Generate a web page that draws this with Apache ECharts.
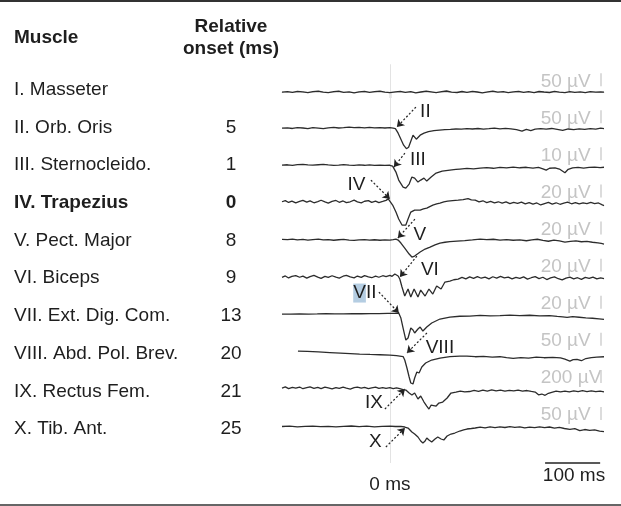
<!DOCTYPE html>
<html><head><meta charset="utf-8">
<script src="https://cdn.jsdelivr.net/npm/echarts@6/dist/echarts.min.js"></script>
<style>html,body{margin:0;padding:0;background:#fff}#c{width:621px;height:506px}</style>
</head><body><div id="c"></div>
<script>
// ---------- table ----------
const muscles = ['I. Masseter','II. Orb. Oris','III. Sternocleido.','IV. Trapezius','V. Pect. Major','VI. Biceps','VII. Ext. Dig. Com.','VIII. Abd. Pol. Brev.','IX. Rectus Fem.','X. Tib. Ant.'];
const onsets = ['', '5', '1', '0', '8', '9', '13', '20', '21', '25'];
const boldRow = 3;
const scaleLabels = ['50 µV','50 µV','10 µV','20 µV','20 µV','20 µV','20 µV','50 µV','200 µV','50 µV'];

// ---------- traces: [time ms, deflection (up +)] ----------
const trI = [[-196,0],[-186,0.5],[-177,-0.3],[-168,0.8],[-158,0.2],[-149,-0.6],[-140,0.5],[-130,1.0],[-121,0],[-112,-0.6],[-102,0.4],[-93,0.9],[-84,-0.2],[-74,0.3],[-65,-0.8],[-56,0.2],[-46,0.7],[-37,-0.3],[-28,0.4],[-18,1.0],[-9,0],[0,-0.6],[10,0.3],[19,0.8],[28,-0.2],[38,0.5],[47,-0.7],[56,0.1],[66,0.9],[75,0.2],[84,-0.5],[94,0.4],[103,1.1],[112,0],[122,-0.4],[131,0.6],[140,-0.2],[150,0.7],[159,0.1],[168,-0.8],[178,0.3],[187,0.9],[196,-0.1],[206,0.5],[215,-0.6],[224,0.2],[234,0.8],[243,-0.3],[252,0.4],[262,-0.5],[271,0.6],[280,0.1],[290,-0.4],[299,0.7],[308,0],[318,-0.6],[327,0.5],[336,-0.2],[346,0.3],[355,-0.5],[364,0.4],[374,-0.1],[383,0.3],[389,0]];
const trII = [[-196,1],[-186,1.4],[-177,0.7],[-168,1.6],[-158,1.2],[-149,0.6],[-140,1.5],[-130,1.1],[-121,0.5],[-112,1.3],[-102,1.8],[-93,1.2],[-84,1.5],[-74,2.0],[-65,1.6],[-56,1.9],[-46,1.4],[-37,1.8],[-28,1.3],[-18,1.6],[-9,1.2],[0,1.5],[6,1.1],[10,0.6],[15,-4],[20,-10],[25,-16],[30,-19.5],[34,-18],[38,-12],[42,-6],[45,-7],[48,-10],[51,-9],[55,-6],[62,-4],[70,-2.5],[80,-1.5],[90,-1],[100,-0.5],[110,-0.2],[120,0.2],[130,0],[140,0.6],[150,0.2],[160,0.7],[170,0.1],[180,0.5],[190,1.0],[200,0.4],[210,0.8],[220,0.3],[230,-0.5],[240,-2],[248,-0.2],[256,-1.5],[264,0],[274,0.5],[284,0],[294,0.7],[304,-0.2],[314,-1.2],[324,0.2],[334,-0.5],[344,0.4],[354,-0.2],[364,0.6],[374,0],[383,1.0],[389,0.5]];
const trIII = [[-196,1.2],[-186,1.5],[-177,1.0],[-168,1.6],[-158,1.9],[-149,1.4],[-140,1.1],[-130,1.5],[-121,1.8],[-112,1.3],[-102,0.9],[-93,1.2],[-84,1.6],[-74,1.1],[-65,0.8],[-56,1.3],[-46,1.0],[-37,1.4],[-28,0.9],[-18,1.2],[-9,0.8],[0,1.0],[5,0.2],[11,-5.8],[16,-13.8],[24,-20.8],[29,-21.8],[35,-17.8],[40,-10.8],[45,-11.8],[51,-15.8],[56,-13.8],[62,-11.8],[67,-14.8],[75,-10.8],[84,-6.8],[95,-4.8],[109,-3.8],[120,-3.2],[127,-2.8],[140,-2.2],[152,-2.6],[164,-1.8],[176,-1.4],[188,-2.0],[200,-1.2],[212,-1.6],[224,-0.9],[236,-1.5],[248,-1.0],[260,-1.8],[270,-1.2],[278,-2.5],[284,-3.8],[290,-2],[300,-1.5],[308,-2.8],[314,-5],[318,-6.5],[324,-3],[332,-1.5],[342,-1.0],[352,-1.8],[362,-1.2],[372,-0.8],[382,-1.3],[389,-1.0]];
const trIV = [[-196,1.6],[-190,2.8],[-184,0.9],[-178,2.2],[-171,0.4],[-164,1.9],[-158,3.0],[-151,1.2],[-145,2.5],[-138,0.6],[-131,1.8],[-125,3.1],[-118,1.4],[-112,0.3],[-105,2.0],[-98,2.9],[-92,1.1],[-85,2.4],[-79,0.7],[-72,1.6],[-65,3.2],[-59,1.5],[-52,0.5],[-46,2.1],[-39,2.8],[-33,1.0],[-26,2.3],[-20,0.8],[-13,1.9],[-7,3.0],[-3,4.5],[0,4.3],[5,-1.7],[11,-8.7],[16,-15.7],[22,-21.7],[25,-23.7],[29,-21.7],[33,-15.7],[38,-8.7],[45,-6.7],[55,-6.7],[61,-5.5],[67,-4.7],[78,-1.7],[85,-0.5],[91,0.3],[98,1.5],[105,2.3],[114,2.8],[124,3.3],[133,3.8],[142,4.8],[148,3.5],[155,3.3],[162,1.5],[169,2.6],[176,0.8],[183,1.9],[190,0.5],[197,1.6],[204,0.2],[211,1.4],[218,-0.3],[225,1.0],[232,0.1],[239,1.3],[246,-0.5],[253,0.7],[260,-0.8],[267,0.4],[274,-1.6],[281,-0.2],[288,0.9],[295,-0.7],[302,0.6],[309,-0.9],[316,0.3],[323,1.2],[330,-0.4],[337,0.8],[344,-0.6],[351,0.5],[358,-0.3],[365,0.9],[372,-0.2],[379,0.4],[385,-1.2],[389,-2.2]];
const trV = [[-196,1.1],[-186,0.8],[-177,1.4],[-168,0.6],[-158,1.0],[-149,0.3],[-140,0.9],[-130,1.3],[-121,0.5],[-112,0.8],[-102,0.2],[-93,0.7],[-84,1.1],[-74,0.4],[-65,0.0],[-56,0.6],[-46,0.9],[-37,0.3],[-28,0.7],[-18,0.2],[-9,0.6],[0,0.3],[6,0.8],[11,1.4],[15,0.4],[20,-2.6],[27,-7.6],[35,-13.6],[40,-16.6],[45,-15.6],[55,-11.6],[64,-8.6],[73,-6.6],[82,-4.5],[91,-2.6],[100,-1.8],[109,-1.1],[122,-0.6],[136,-0.1],[150,0.6],[164,1.4],[176,0.8],[188,1.2],[200,0.4],[212,0.9],[224,0.2],[236,0.6],[248,-0.3],[258,0.5],[268,1.2],[278,0.1],[288,-0.8],[298,0.3],[308,-0.5],[318,-1.6],[328,-0.9],[338,-0.4],[348,-1.3],[358,-1.0],[368,-1.8],[378,-2.4],[384,-3.0],[389,-3.6]];
const trVI = [[-196,0.2],[-190,1.6],[-184,-0.4],[-178,1.1],[-171,2.0],[-164,0.3],[-158,1.4],[-151,-0.6],[-145,0.9],[-138,2.1],[-131,0.5],[-125,-0.8],[-118,1.2],[-112,0.1],[-105,1.8],[-98,0.4],[-92,-0.5],[-85,1.3],[-79,2.2],[-72,0.6],[-65,-0.3],[-59,1.5],[-52,0.2],[-46,1.9],[-39,0.7],[-33,-0.2],[-26,1.4],[-20,0.3],[-13,1.8],[-7,0.9],[0,2.2],[4,1.2],[9,3.5],[15,1.5],[18,-1.5],[22,-9.5],[27,-18.5],[33,-11.5],[38,-19.5],[44,-11.5],[51,-19.5],[56,-12.5],[64,-18.5],[71,-11.5],[78,-16.5],[85,-8.5],[93,-11.5],[100,-4.5],[109,-3.5],[116,-2.2],[124,-1.5],[131,0.2],[138,-1.4],[145,0.6],[152,-0.9],[159,1.0],[166,-0.7],[173,0.4],[180,-1.3],[187,0.8],[194,-0.5],[201,1.2],[208,-0.3],[215,0.5],[222,-1.4],[229,0.2],[236,-0.9],[243,0.7],[250,-1.6],[257,-0.2],[264,0.9],[271,-1.0],[278,0.3],[285,-2.0],[292,-0.4],[299,0.6],[306,-1.2],[313,-2.4],[320,-0.5],[327,0.4],[334,-1.3],[341,-0.2],[348,-1.8],[355,0.1],[362,-0.9],[369,0.5],[376,-1.4],[383,-0.3],[389,-1.0]];
const trVII = [[-196,0.6],[-180,0.5],[-164,0.8],[-148,0.6],[-132,0.7],[-116,0.9],[-100,0.7],[-84,0.8],[-68,1.0],[-52,0.9],[-36,1.1],[-20,1.0],[-4,1.2],[8,1.3],[16,1.6],[20,-3.4],[24,-13.4],[29,-25.4],[33,-23.4],[38,-13.4],[42,-15.4],[45,-18.4],[51,-14.4],[55,-12.4],[60,-16.4],[67,-12.4],[76,-8.4],[91,-4.4],[109,-2.4],[127,-1.6],[145,-1.4],[164,-0.8],[182,-1.2],[200,-0.9],[218,-0.4],[236,-0.9],[254,-0.6],[272,-1.2],[290,-0.9],[304,-1.8],[314,-2.2],[322,-2.7],[332,-2.0],[344,-2.6],[356,-3.2],[368,-3.6],[380,-4.2],[389,-4.7]];
const trVIII = [[-167,0.7],[-150,0.3],[-130,-0.2],[-109,-0.8],[-90,-1.3],[-72,-1.8],[-55,-2.3],[-36,-2.7],[-18,-3.0],[0,-3.3],[12,-4.0],[24,-4.8],[27,-8.3],[31,-16.3],[35,-25.3],[38,-31.3],[42,-32.3],[45,-26.3],[49,-20.3],[53,-21.3],[58,-15.3],[65,-11.3],[76,-8.3],[91,-6.3],[109,-5.0],[127,-4.3],[140,-4.3],[155,-5.0],[170,-4.6],[186,-5.4],[200,-5.0],[212,-6.0],[224,-6.6],[238,-5.8],[252,-6.3],[266,-5.5],[280,-6.0],[296,-5.6],[310,-6.2],[318,-7.5],[327,-9.3],[333,-8.0],[340,-7.6],[348,-9.0],[356,-6.8],[366,-6.0],[376,-5.4],[389,-5.0]];
const trIX = [[-196,0.8],[-190,1.9],[-184,0.2],[-177,1.4],[-171,0.6],[-164,1.8],[-158,0.1],[-151,1.2],[-145,2.0],[-138,0.5],[-131,1.5],[-125,0.3],[-118,1.7],[-112,0.9],[-105,-0.1],[-98,1.3],[-92,0.4],[-85,1.6],[-79,0.7],[-72,-0.2],[-65,1.1],[-59,1.8],[-52,0.6],[-46,1.4],[-39,0.2],[-33,1.0],[-26,1.7],[-20,0.5],[-13,1.3],[-7,0.4],[0,1.2],[6,0.3],[12,1.0],[18,0.2],[24,-0.7],[29,-1.2],[35,-4.2],[40,-6.2],[45,-4.2],[51,-10.2],[56,-7.2],[62,-13.2],[67,-17.2],[71,-20.2],[75,-16.2],[78,-14.2],[84,-17.2],[89,-14.2],[96,-13.2],[104,-9.2],[111,-4.2],[120,-3.2],[128,-2.2],[136,-3.0],[145,-2.7],[153,-1.6],[161,-2.5],[169,-1.4],[177,-2.2],[185,-1.1],[193,-2.0],[201,-1.3],[209,-2.4],[217,-1.5],[225,-2.1],[233,-1.2],[241,-2.3],[249,-1.7],[257,-2.6],[264,-3.2],[270,-6.0],[276,-5.2],[282,-6.5],[288,-4.5],[294,-3.5],[302,-2.4],[310,-3.1],[318,-2.2],[326,-3.0],[334,-2.0],[342,-2.8],[350,-1.9],[358,-2.7],[366,-2.0],[374,-2.9],[382,-2.3],[389,-3.0]];
const trX = [[-196,-0.6],[-182,-0.3],[-168,-0.9],[-154,-0.5],[-140,-0.2],[-126,-0.8],[-112,-0.4],[-98,-1.0],[-84,-0.5],[-70,-0.1],[-56,-0.7],[-42,-0.3],[-28,-0.9],[-14,-0.5],[0,-0.2],[10,-0.6],[20,-0.4],[27,-1.1],[33,-2.1],[40,-6.1],[45,-8.1],[51,-11.1],[56,-15.1],[60,-17.1],[64,-15.1],[67,-12.1],[71,-14.1],[76,-16.1],[82,-13.1],[87,-11.1],[93,-13.1],[98,-14.1],[104,-10.1],[111,-8.1],[118,-7.1],[127,-5.1],[134,-4.0],[140,-3.1],[148,-2.6],[155,-2.1],[164,-1.2],[173,-2.0],[182,-1.0],[191,-1.8],[200,-0.9],[209,-1.6],[218,-0.8],[227,-1.5],[236,-1.0],[245,-2.0],[254,-1.2],[263,-1.8],[272,-0.9],[281,-1.7],[290,-1.1],[299,-2.2],[308,-1.5],[317,-2.6],[327,-3.4],[336,-2.8],[345,-4.8],[354,-3.6],[363,-4.4],[372,-4.0],[381,-5.2],[389,-5.8]];
const traces = [trI, trII, trIII, trIV, trV, trVI, trVII, trVIII, trIX, trX];

// ---------- onset annotations: [time ms, row position] ----------
const annNames = ['II','III','IV','V','VI','VII','VIII','IX','X'];
const annTip   = [[12.7,0.943],[7.3,2.022],[0,2.884],[14.5,3.935],[18.2,4.987],[16.4,5.957],[30.9,7.035],[27.3,8.005],[27.3,9.057]];
const annTail  = [[47.3,0.404],[27.3,1.644],[-34.5,2.372],[45.5,3.423],[49.1,4.42],[-20,5.391],[67.3,6.496],[-9.1,8.544],[-7.3,9.569]];
const annLabel = [[64.5,0.539],[50.9,1.833],[-60.9,2.493],[54.5,3.841],[72.7,4.798],[-45.5,5.418],[90.9,6.9],[-29.1,8.383],[-26.4,9.434]];

// time scale bar (ms)
const scaleBar = [282, 382];

const AMP_PER_ROW = 37.1;   // deflection units per row spacing
const FONT = '"Liberation Sans", Arial, sans-serif';
const INK = '#1e1e1e';

const chart = echarts.init(document.getElementById('c'), null, {renderer: 'canvas'});

const series = [];
traces.forEach((tr, i) => {
  const s = {
    type: 'line', silent: true, symbol: 'none', showSymbol: false, z: 3,
    lineStyle: {color: '#2c2c2c', width: 1.3},
    data: tr.map(([t, v]) => [t, i - v / AMP_PER_ROW])
  };
  if (i === 0) {
    s.markLine = {
      silent: true, symbol: 'none', animation: false, z: 1,
      label: {show: false},
      lineStyle: {color: '#e3e3e3', width: 1, type: 'solid'},
      data: [[{coord: [0, -0.75]}, {coord: [0, 10]}]]
    };
  }
  series.push(s);
});

// scale labels (µV)
series.push({
  type: 'scatter', silent: true, symbolSize: 0, z: 4,
  itemStyle: {opacity: 1},
  data: scaleLabels.map((s, i) => ({value: [274, i - 0.29], name: s})),
  label: {show: true, position: 'right', distance: 0, formatter: '{b}', color: '#c4c4c4', fontSize: 19, fontFamily: FONT}
});

// roman numeral labels + arrows
const markLines = [];
annTip.forEach((tip, k) => {
  markLines.push([{coord: annTail[k], symbol: 'none'}, {coord: tip, symbol: 'arrow'}]);
});
series.push({
  type: 'scatter', silent: true, symbolSize: 0, z: 5,
  itemStyle: {opacity: 1},
  data: annLabel.map((p, k) => ({value: p, name: annNames[k]})),
  label: {
    show: true, position: 'inside', color: INK, fontSize: 19, fontFamily: FONT,
    formatter: p => p.name === 'VII' ? '{hl|V}{n|II}' : p.name,
    rich: {
      hl: {backgroundColor: '#b4cde2', color: INK, fontSize: 19, fontFamily: FONT},
      n: {color: INK, fontSize: 19, fontFamily: FONT}
    }
  },
  markLine: {
    silent: true, animation: false, symbolSize: 7,
    label: {show: false},
    lineStyle: {color: '#222', width: 1.2, type: [2, 2]},
    data: markLines
  }
});

// vertical µV scale ticks and 100 ms bar
const bars = scaleLabels.map((s, i) => [{coord: [383, i - 0.51]}, {coord: [383, i - 0.16]}]);
series.push({
  type: 'line', silent: true, data: [], z: 4,
  markLine: {
    silent: true, animation: false, symbol: 'none', label: {show: false},
    lineStyle: {color: '#d0d0d0', width: 1.5, type: 'solid'},
    data: bars
  }
});
series.push({
  type: 'line', silent: true, data: [], z: 6,
  markLine: {
    silent: true, animation: false, symbol: 'none', label: {show: false},
    lineStyle: {color: '#222', width: 1.5, type: 'solid'},
    data: [
      [{coord: [scaleBar[0], 10]}, {coord: [scaleBar[1], 10]}],
      [{coord: [scaleBar[0], 9.93]}, {coord: [scaleBar[0], 10.07]}],
      [{coord: [scaleBar[1], 9.93]}, {coord: [scaleBar[1], 10.07]}]
    ]
  }
});

// table graphics
const graphic = [];
const txt = (x, y, text, opts = {}) => graphic.push({
  type: 'text', x, y, silent: true,
  style: Object.assign({text, font: `${opts.bold ? 'bold ' : ''}19px ${FONT}`, fill: INK,
    align: opts.align || 'left', verticalAlign: 'middle'})
});
txt(14, 38, 'Muscle', {bold: true});
txt(231, 27, 'Relative', {bold: true, align: 'center'});
txt(231, 49, 'onset (ms)', {bold: true, align: 'center'});
muscles.forEach((m, i) => {
  const y = 89.7 + 37.7 * i;
  txt(14, y, m, {bold: i === boldRow});
  if (onsets[i]) txt(231, y, onsets[i], {bold: i === boldRow, align: 'center'});
});
txt(574, 476, '100 ms', {align: 'center'});
graphic.push({type: 'line', silent: true, shape: {x1: 0, y1: 1, x2: 621, y2: 1}, style: {stroke: '#333', lineWidth: 2}});
graphic.push({type: 'line', silent: true, shape: {x1: 0, y1: 505, x2: 621, y2: 505}, style: {stroke: '#333', lineWidth: 1.5}});

chart.setOption({
  animation: false,
  backgroundColor: '#fff',
  grid: {left: 282, right: 17, top: 55, bottom: 43},
  xAxis: {
    type: 'value', min: -196, max: 389,
    axisLine: {show: true, lineStyle: {color: '#d9d9d9', width: 1}},
    axisTick: {show: true, customValues: [0], length: 6, lineStyle: {color: '#222', width: 1.2}},
    axisLabel: {show: true, customValues: [0], margin: 12, formatter: v => v + ' ms', color: INK, fontSize: 19, fontFamily: FONT},
    splitLine: {show: false}
  },
  yAxis: {
    type: 'value', min: -1, max: 10, inverse: true, show: false, splitLine: {show: false}
  },
  series,
  graphic
});
</script>
</body></html>
